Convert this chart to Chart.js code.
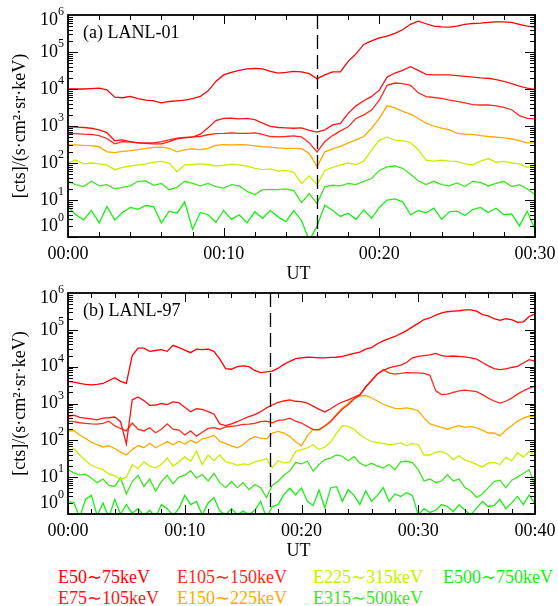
<!DOCTYPE html>
<html>
<head>
<meta charset="utf-8">
<script src="https://cdn.jsdelivr.net/npm/chart.js@4.4.1/dist/chart.umd.min.js"></script>
<style>
  body { margin: 0; background: #fff; width: 558px; height: 606px; overflow: hidden; position: relative;
         font-family: "Liberation Serif", "Times New Roman", serif; }
  .pane { position: absolute; left: 0; width: 558px; height: 280px; }
  #legend div { position: absolute; font-size: 18px; line-height: 20px; white-space: nowrap; }
</style>
</head>
<body>
<div class="pane" style="top:0"><canvas id="chartA" width="558" height="280"></canvas></div>
<div class="pane" style="top:280px"><canvas id="chartB" width="558" height="280"></canvas></div>
<div id="legend"></div>
<script>
// energy channels, legend order
const channels = ['E50\u223C75keV', 'E75\u223C105keV', 'E105\u223C150keV', 'E150\u223C225keV',
                  'E225\u223C315keV', 'E315\u223C500keV', 'E500\u223C750keV'];
const colors = ['#ff0000', '#ff1414', '#ff2a1a', '#ffa800', '#c4f000', '#3ce61e', '#14f014'];

// minutes after 00:00, sampled every 30 s
const minutes = (n) => Array.from({ length: n }, (_, i) => i * 0.5);
const tA = minutes(61);
const tB = minutes(81);

// dashed marker times (min)
const eventA = 16.0;
const eventB = 17.3;

// (a) LANL-01
const a50 = [1.0e4,1.0e4,1.0e4,1.02e4,1.05e4,9.5e3,6.0e3,5.8e3,6.3e3,5.5e3,5.0e3,4.8e3,4.2e3,4.6e3,4.8e3,5.0e3,5.5e3,6.3e3,8.9e3,1.6e4,
  2.4e4,2.8e4,3.2e4,3.5e4,3.6e4,3.5e4,3.0e4,2.7e4,2.8e4,3.0e4,2.9e4,2.6e4,1.9e4,2.4e4,2.9e4,2.9e4,
  5.6e4,8.9e4,1.6e5,2.0e5,2.4e5,2.7e5,3.2e5,4.0e5,5.6e5,6.8e5,5.8e5,5.0e5,4.8e5,4.7e5,5.0e5,5.6e5,5.9e5,6.0e5,6.3e5,6.5e5,6.5e5,6.3e5,5.6e5,5.0e5,4.7e5];
const a75 = [950,930,910,870,790,660,400,420,380,350,340,330,330,380,450,480,500,600,890,1400,
  1600,1620,1550,1600,1480,1200,980,910,890,870,890,760,680,790,1070,1170,
  2200,3500,4800,6300,9300,2.1e4,2.7e4,3.2e4,4.0e4,3.2e4,2.5e4,2.4e4,2.4e4,2.4e4,2.3e4,2.2e4,2.1e4,2.0e4,1.95e4,1.8e4,1.6e4,1.4e4,1.2e4,1.05e4,9800];
const a105 = [620,620,600,590,550,460,330,380,370,350,350,350,380,420,470,490,510,520,580,620,
  630,650,630,630,650,590,520,510,520,540,510,350,200,380,550,740,
  950,1600,2000,2700,5000,1.26e4,1.45e4,1.4e4,1.26e4,7900,6200,5900,5600,5000,4600,4200,3800,3700,3700,3500,3200,2750,1900,1600,1550];
const a150 = [310,310,300,295,275,200,190,205,215,230,250,265,270,250,200,230,240,230,250,300,
  315,310,315,310,290,275,270,255,250,250,245,180,80,200,240,280,
  350,420,520,870,1600,3500,3100,2500,2100,1600,1200,1000,870,790,630,600,590,550,520,500,480,450,400,350,350];
const a225 = [100,120,95,100,95,89,66,76,83,89,95,105,110,100,58,89,91,95,91,83,
  87,93,89,83,72,66,69,60,63,56,28,45,26,63,76,89,
  100,91,112,224,417,500,417,400,355,229,120,112,120,112,110,95,89,112,132,105,110,100,95,76,83];
const a315 = [32,26,23,32,24,26,20,22,24,32,33,25,28,19,22,32,28,24,28,23,
  21,26,24,17,14,19,19,19,20,18,8.5,15,8,23,25,24,
  28,26,32,38,63,79,83,72,50,33,26,32,26,24,29,23,32,30,24,28,32,23,26,20,14];
const a500 = [6.6,4.0,2.9,5.2,2.4,6.6,2.9,4.6,6.3,5.6,7.1,6.6,2.4,5.0,4.4,8.9,1.6,4.6,4.0,2.5,
  5.2,3.0,4.0,2.4,4.8,3.2,5.2,3.5,2.6,5.2,2.8,0.8,2.0,7.2,5.2,3.6,
  4.4,3.0,5.4,3.2,6.3,10,10.7,8.9,4.0,5.2,4.5,6.0,3.0,4.8,5.0,3.8,5.5,6.3,4.6,6.0,4.0,4.2,2.0,5.0,1.6];

// (b) LANL-97
const b50 = [4000,3800,3500,3300,3200,3300,3500,4200,5000,4000,3500,2.0e4,3.2e4,3.2e4,2.6e4,2.75e4,2.9e4,2.6e4,3.8e4,3.3e4,
  2.8e4,2.4e4,3.0e4,2.9e4,3.0e4,2.6e4,1.6e4,8900,8500,1.0e4,1.05e4,1.0e4,7900,6900,7200,7600,9100,1.15e4,1.4e4,1.65e4,
  1.74e4,1.8e4,1.78e4,1.74e4,1.74e4,1.78e4,1.8e4,1.9e4,2.1e4,2.3e4,2.5e4,3.0e4,3.3e4,4.2e4,5.0e4,5.8e4,6.6e4,7.9e4,9.5e4,1.2e5,
  1.5e5,1.9e5,2.1e5,2.5e5,2.9e5,3.1e5,3.2e5,3.3e5,3.5e5,3.5e5,3.2e5,2.6e5,2.4e5,2.0e5,1.8e5,2.0e5,1.9e5,1.6e5,1.65e5,2.3e5,2.7e5];
const b75 = [450,480,420,400,380,360,400,410,430,320,80,1260,1500,1200,890,910,1000,930,1100,1050,
  790,600,720,690,600,520,280,250,280,320,380,440,500,600,760,910,1070,1170,1260,1150,
  1120,1020,850,690,590,720,910,1100,1260,1480,1740,2800,4200,6300,7900,9300,1.02e4,1.1e4,1.3e4,1.74e4,
  1.9e4,2.0e4,2.1e4,2.3e4,2.0e4,1.9e4,1.95e4,1.9e4,1.85e4,1.74e4,1.6e4,1.3e4,1.05e4,8900,8300,8700,9500,1.02e4,1.26e4,1.55e4,1.4e4];
const b105 = [330,320,300,290,280,275,290,330,250,210,180,295,200,180,220,160,200,280,200,190,
  140,180,130,165,210,220,200,230,240,250,270,275,290,320,330,300,350,360,400,330,
  295,240,195,195,250,330,480,710,930,1320,1660,2800,4200,6300,8300,6800,6300,6600,6900,6800,
  6800,6600,5800,2200,1740,1800,2000,2200,2300,2200,2100,1740,1400,1170,1020,1150,1400,1800,2200,2600,2950];
const b150 = [180,185,140,112,89,76,66,72,60,48,40,56,72,63,83,63,76,91,76,95,
  79,100,85,110,120,138,93,83,71,63,76,105,126,115,110,158,174,158,126,91,
  71,132,200,190,240,316,525,760,1000,1380,1580,1660,1410,1170,955,830,740,725,760,710,
  630,400,280,250,224,200,229,250,224,240,219,190,158,158,132,190,250,330,400,457,447];
const b225 = [50,60,40,28,21,18,16,12,11,8.9,10,22,17,26,20,18,22,33,20,26,
  36,27,50,22,40,28,40,26,24,21,23,22,26,28,32,18,28,24,26,50,
  56,62,76,56,66,89,158,251,240,200,141,112,93,87,83,76,79,85,71,83,
  76,40,40,48,50,42,30,38,29,26,22,19,24,25,22,35,28,46,35,50,40];
const b315 = [16,13,11.5,12,9.5,7.1,8.9,6.0,5.6,9.5,3.5,7.6,11.2,5.6,8.9,4.2,7.6,11.2,6.6,10,
  11.2,15,9.5,11.7,7.9,12.6,7.1,5.2,7.6,5.2,7.1,4.6,6.3,5.2,2.8,6.0,7.8,11.5,15,25,
  23,27,14.5,22,30,33,40,37,28,36,24,20,24,20,18,22,16,26,27,25,
  16,7.9,8.9,7.1,7.9,11.7,7.9,8.9,5.2,4.2,2.8,3.5,5.2,7.6,8.3,5.2,8.3,10,12.6,16,5.6];
const b500 = [2.2,2.0,0.8,2.5,3.2,0.9,2.0,0.8,2.5,1.0,1.8,1.05,1.4,0.9,1.26,0.8,1.8,1.4,0.9,1.4,
  3.2,1.8,2.2,0.95,2.0,2.8,1.2,0.95,1.4,0.95,1.2,0.95,1.26,2.2,0.8,1.6,1.8,3.4,5.0,3.3,
  5.1,2.2,1.7,4.5,1.45,5.1,5.6,2.2,4.6,3.2,1.8,4.2,2.2,3.2,5.2,2.2,3.5,3.0,3.8,3.2,
  0.95,1.4,1.1,1.26,1.8,1.6,1.15,1.8,1.26,0.95,1.45,2.2,1.6,1.7,2.5,1.4,2.0,3.0,1.8,3.3,1.9];

const FONT = '"Liberation Serif", "Times New Roman", serif';

// IDL-style box: inward ticks on all sides, 10^n labels, dashed marker
const frame = {
  id: 'frame',
  afterDatasetsDraw(chart, args, o) {
    const { ctx, chartArea: a, scales: { x, y } } = chart;
    ctx.save();
    ctx.strokeStyle = '#000';
    ctx.fillStyle = '#000';

    // dashed marker line
    const ex = Math.round(x.getPixelForValue(o.event)) + 0.5;
    ctx.lineWidth = 1.3;
    ctx.setLineDash([14, 6]);
    ctx.beginPath(); ctx.moveTo(ex, a.top); ctx.lineTo(ex, a.bottom); ctx.stroke();
    ctx.setLineDash([]);

    // y ticks (log decades + minor)
    ctx.lineWidth = 1;
    ctx.beginPath();
    for (let d = 0; d < 6; d++) {
      for (let k = 1; k < 10; k++) {
        const py = Math.round(y.getPixelForValue(k * Math.pow(10, d))) + 0.5;
        const len = k === 1 ? 10 : 5;
        ctx.moveTo(a.left, py); ctx.lineTo(a.left + len, py);
        ctx.moveTo(a.right, py); ctx.lineTo(a.right - len, py);
      }
    }
    // x ticks every 2 min, major every 10
    for (let m = 0; m <= o.xMax; m += 2) {
      const px = Math.round(x.getPixelForValue(m)) + 0.5;
      const len = m % 10 === 0 ? 9 : 5;
      ctx.moveTo(px, a.bottom); ctx.lineTo(px, a.bottom - len);
      ctx.moveTo(px, a.top); ctx.lineTo(px, a.top + len);
    }
    ctx.stroke();

    // box
    ctx.lineWidth = 1.8;
    ctx.strokeRect(a.left, a.top, a.right - a.left, a.bottom - a.top);

    // y labels
    ctx.textBaseline = 'middle';
    for (let n = 0; n <= 6; n++) {
      let py = y.getPixelForValue(Math.pow(10, n));
      if (n === 0) py -= 11;
      if (n === 6) py += 5;
      ctx.font = '18px ' + FONT;
      ctx.textAlign = 'right';
      ctx.fillText('10', a.left - 10, py);
      ctx.font = '12px ' + FONT;
      ctx.textAlign = 'left';
      ctx.fillText(String(n), a.left - 10, py - 8);
    }

    // x labels
    ctx.font = '18px ' + FONT;
    ctx.textAlign = 'center';
    for (let m = 0; m <= o.xMax; m += 10) {
      ctx.fillText('00:' + String(m).padStart(2, '0'), x.getPixelForValue(m), a.bottom + 17);
    }
    ctx.fillText('UT', (a.left + a.right) / 2 - 3, a.bottom + 37);

    // panel title
    ctx.textAlign = 'left';
    ctx.fillText(o.title, a.left + 15, a.top + 18);

    // y title
    ctx.save();
    ctx.translate(20, (a.top + a.bottom) / 2);
    ctx.rotate(-Math.PI / 2);
    ctx.textAlign = 'center';
    ctx.fillText('[cts]/(s\u00B7cm\u00B2\u00B7sr\u00B7keV)', 0, 0);
    ctx.restore();

    ctx.restore();
  }
};

function makePanel(id, times, series, xMax, event, title, pad) {
  return new Chart(document.getElementById(id), {
    type: 'line',
    data: {
      datasets: series.map((s, i) => ({
        label: channels[i],
        data: s.map((v, j) => ({ x: times[j], y: v })),
        borderColor: colors[i],
        borderWidth: 1.3,
        pointRadius: 0,
        tension: 0,
        fill: false,
        clip: 0
      }))
    },
    options: {
      responsive: false,
      animation: false,
      layout: { padding: pad },
      scales: {
        x: { type: 'linear', min: 0, max: xMax, display: false },
        y: { type: 'logarithmic', min: 1, max: 1e6, display: false }
      },
      plugins: {
        legend: { display: false },
        tooltip: { enabled: false },
        frame: { event, title, xMax }
      }
    },
    plugins: [frame]
  });
}

makePanel('chartA', tA, [a50, a75, a105, a150, a225, a315, a500], 30, eventA, '(a) LANL-01',
  { left: 68, right: 23, top: 15, bottom: 43 });
makePanel('chartB', tB, [b50, b75, b105, b150, b225, b315, b500], 40, eventB, '(b) LANL-97',
  { left: 68, right: 23, top: 13, bottom: 46 });

// legend, four columns of two rows
const legendPos = [[58, 567], [58, 588], [177, 567], [177, 588], [313, 567], [313, 588], [443, 567]];
const legend = document.getElementById('legend');
channels.forEach((name, i) => {
  const el = document.createElement('div');
  el.textContent = name;
  el.style.color = colors[i];
  el.style.left = legendPos[i][0] + 'px';
  el.style.top = legendPos[i][1] + 'px';
  legend.appendChild(el);
});
</script>
</body>
</html>
